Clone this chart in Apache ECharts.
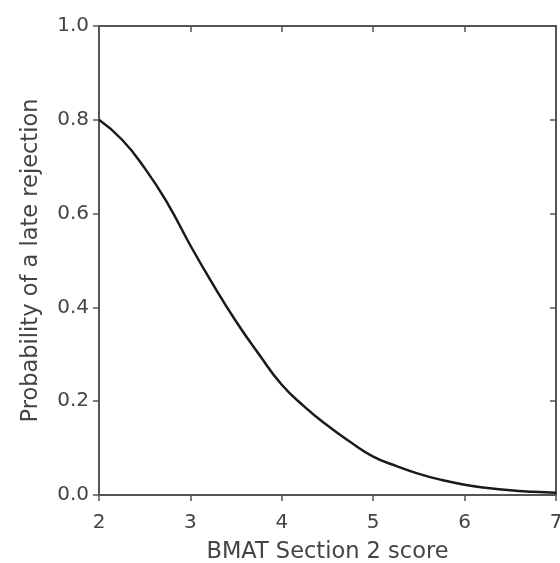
<!DOCTYPE html>
<html><head><meta charset="utf-8">
<script src="https://cdn.jsdelivr.net/npm/echarts@6/dist/echarts.min.js"></script>
<style>html,body{margin:0;padding:0;background:#fff}#c{width:560px;height:563px}</style>
</head><body><div id="c"></div>
<script>
var scores = [2.0,2.25,2.5,2.75,3.0,3.25,3.5,3.75,4.0,4.25,4.5,4.75,5.0,5.25,5.5,5.75,6.0,6.25,6.5,6.75,7.0];
var probs  = [0.800,0.758,0.697,0.622,0.532,0.448,0.370,0.300,0.235,0.188,0.148,0.113,0.082,0.062,0.045,0.032,0.022,0.015,0.010,0.007,0.005];
var xTicks = [2,3,4,5,6,7];
var yTicks = [0.0,0.2,0.4,0.6,0.8,1.0];
var axisColor = '#555555', textColor = '#444444', font = 'DejaVu Sans';
var chart = echarts.init(document.getElementById('c'));
function ax(extra){ return Object.assign({
  type:'value', axisLine:{show:true,onZero:false,lineStyle:{color:axisColor,width:2}},
  splitLine:{show:false}}, extra); }
chart.setOption({
  animation:false,
  grid:{left:99,right:4,top:26,bottom:68,containLabel:false,outerBoundsMode:'none'},
  xAxis:[
    ax({min:xTicks[0],max:xTicks[xTicks.length-1],interval:1,position:'bottom',
      name:'BMAT Section 2 score',nameLocation:'middle',nameGap:46,
      nameTextStyle:{fontFamily:font,fontSize:22.5,color:textColor},
      axisTick:{show:true,inside:false,length:6,lineStyle:{color:axisColor,width:1.5}},
      axisLabel:{fontFamily:font,fontSize:20,color:textColor,margin:18}}),
    ax({min:xTicks[0],max:xTicks[xTicks.length-1],interval:1,position:'top',
      axisTick:{show:true,inside:true,length:6,lineStyle:{color:axisColor,width:1.5}},
      axisLabel:{show:false}})
  ],
  yAxis:[
    ax({min:yTicks[0],max:yTicks[yTicks.length-1],interval:0.2,position:'left',
      name:'Probability of a late rejection',nameLocation:'middle',nameGap:56,
      nameTextStyle:{fontFamily:font,fontSize:22.5,color:textColor},
      axisTick:{show:true,inside:false,length:6,lineStyle:{color:axisColor,width:1.5}},
      axisLabel:{fontFamily:font,fontSize:20,color:textColor,margin:10,
        formatter:function(v){return v.toFixed(1);}}}),
    ax({min:yTicks[0],max:yTicks[yTicks.length-1],interval:0.2,position:'right',
      axisTick:{show:true,inside:true,length:6,lineStyle:{color:axisColor,width:1.5}},
      axisLabel:{show:false}})
  ],
  series:[{type:'line',xAxisIndex:0,yAxisIndex:0,smooth:true,showSymbol:false,
    data:scores.map(function(s,i){return [s,probs[i]];}),
    lineStyle:{color:'#1a1a1a',width:2.5}}]
});
</script></body></html>
